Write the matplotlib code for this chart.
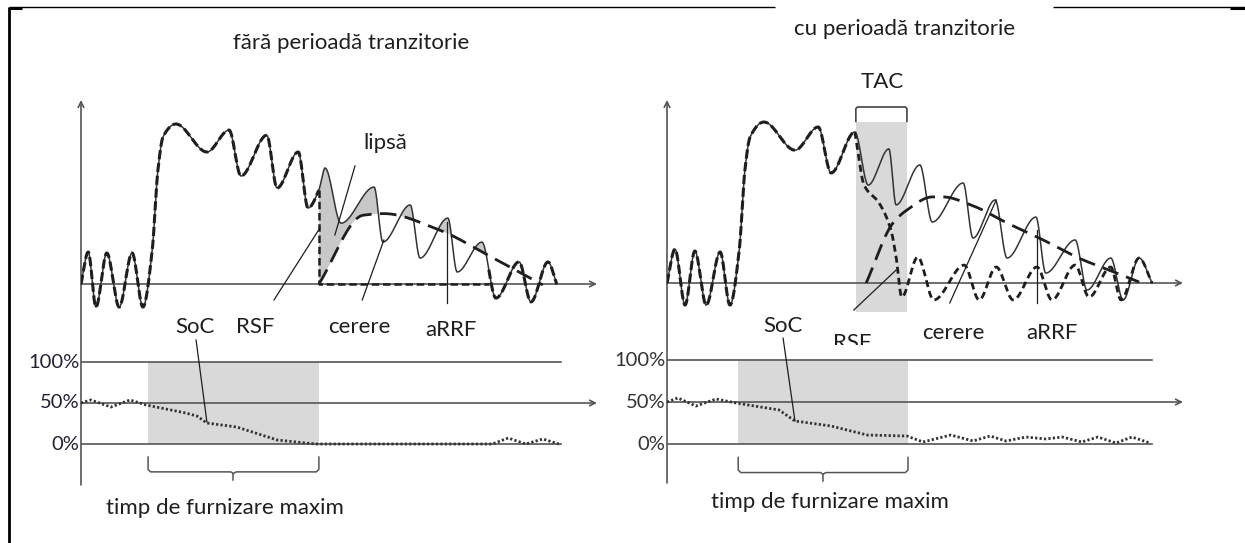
import numpy as np
import matplotlib
matplotlib.use("Agg")
import matplotlib.pyplot as plt
from matplotlib.lines import Line2D

# ---------------- data (time 0..100, power p, state of charge %) ----------------
# left panel: "fără perioadă tranzitorie"
L_dem_t = [0, 1.4, 2.9, 5.0, 7.4, 9.9, 12.0, 13.8, 14.9, 15.9, 18.4, 24.4, 28.7, 31.0, 36.0, 38.0,
           42.1, 44.0, 46.1, 47.3, 50.4, 56.8, 58.5, 63.8, 65.7, 71.1, 72.9, 77.7, 80.4, 84.9, 87.2, 90.5, 92.2]
L_dem_p = [0, 0.20, -0.144, 0.194, -0.144, 0.194, -0.144, 0.21, 0.71, 0.92, 1.0, 0.825, 0.962, 0.675, 0.93, 0.60,
           0.825, 0.475, 0.588, 0.725, 0.38, 0.606, 0.262, 0.494, 0.162, 0.412, 0.075, 0.262, -0.088, 0.138, -0.112, 0.138, 0]
L_rsf_end = 46.1          # RSF stops delivering
L_tail_start = 79.0       # supply follows demand again
L_arrf_t = [46.1, 54.7, 58.7, 69.4, 79.5, 84.9, 89.5]
L_arrf_p = [0, 0.43, 0.44, 0.338, 0.169, 0.075, -0.006]
L_soc_t = [0, 1.9, 5.8, 9.5, 12.6, 20.3, 22.5, 24.4, 30.2, 38.0, 45.5, 79.7, 82.8, 86.2, 89.5, 92.6]
L_soc_s = [50, 53.7, 45.1, 53.7, 47.6, 37.8, 34.0, 25.6, 20.7, 4.9, 0, 0, 7.3, 0, 6.1, 0]
L_box = (13.0, 46.1)

# right panel: "cu perioadă tranzitorie"
R_dem_t = [0, 1.55, 3.5, 5.4, 7.6, 10.3, 12.2, 14.0, 15.1, 16.1, 18.8, 24.8, 29.3, 31.8, 36.4, 39.0,
           43.0, 44.4, 49.0, 51.4, 57.4, 59.3, 63.6, 65.9, 71.5, 73.4, 79.1, 81.4, 86.0, 88.4, 91.5, 94.0]
R_dem_p = [0, 0.212, -0.138, 0.20, -0.138, 0.194, -0.138, 0.206, 0.706, 0.912, 1.006, 0.83, 0.975, 0.688, 0.944, 0.612,
           0.838, 0.488, 0.738, 0.381, 0.625, 0.281, 0.519, 0.156, 0.412, 0.062, 0.269, -0.044, 0.156, -0.106, 0.156, 0]
R_split = 36.4            # start of transition (TAC)
R_rsf_t = [36.4, 38.2, 41.1, 43.4, 44.4, 45.5, 48.6, 51.7, 57.6, 60.5, 63.8, 67.1, 71.7, 74.6, 79.1, 81.8, 86.0, 88.0, 91.5, 94.0]
R_rsf_p = [0.944, 0.612, 0.50, 0.331, 0.162, -0.088, 0.162, -0.106, 0.112, -0.106, 0.10, -0.106, 0.10, -0.106, 0.112, -0.088, 0.10, -0.106, 0.156, 0]
R_arrf_t = [38.6, 43.8, 46.5, 51.4, 53.5, 58.9, 65.9, 72.9, 79.8, 86.6, 91.5]
R_arrf_p = [0, 0.375, 0.456, 0.538, 0.538, 0.488, 0.375, 0.269, 0.156, 0.069, 0.006]
R_soc_t = [0, 2.1, 5.6, 9.5, 13.4, 21.7, 24.8, 31.8, 38.8, 46.5, 49.6, 55.0, 59.3, 62.6, 65.7, 69.6, 73.4,
           76.6, 80.4, 83.5, 87.0, 90.1, 93.6]
R_soc_s = [50, 54.8, 45.2, 53.6, 48.8, 40.5, 27.4, 21.4, 10.7, 9.5, 2.4, 10.7, 3.6, 9.5, 3.6, 8.3, 6.0,
           8.3, 2.4, 8.3, 1.2, 8.3, 1.2]
R_box = (13.8, 46.7)
R_tac = (36.6, 46.5)

soc_levels = [100, 50, 0]
soc_labels = ["100%", "50%", "0%"]

# ---------------- helpers ----------------
def pchip(x, y, xn):
    x = np.asarray(x, float); y = np.asarray(y, float); xn = np.asarray(xn, float)
    h = np.diff(x); d = np.diff(y) / h
    m = np.zeros_like(y)
    m[0], m[-1] = d[0], d[-1]
    for k in range(1, len(x) - 1):
        if d[k - 1] * d[k] > 0:
            w1 = 2 * h[k] + h[k - 1]; w2 = h[k] + 2 * h[k - 1]
            m[k] = (w1 + w2) / (w1 / d[k - 1] + w2 / d[k])
    i = np.clip(np.searchsorted(x, xn) - 1, 0, len(x) - 2)
    s = (xn - x[i]) / h[i]
    h00 = 2 * s**3 - 3 * s**2 + 1; h10 = s**3 - 2 * s**2 + s
    h01 = -2 * s**3 + 3 * s**2; h11 = s**3 - s**2
    return h00 * y[i] + h10 * h[i] * m[i] + h01 * y[i + 1] + h11 * h[i] * m[i + 1]

def smooth(x, y, n=800):
    xn = np.linspace(x[0], x[-1], n)
    return xn, pchip(x, y, xn)

W, H = 1245, 543
plt.rcParams['font.family'] = ['Lato', 'DejaVu Sans']
fig = plt.figure(figsize=(W / 100, H / 100), dpi=100)

def add_ax(x0, x1, y0, y1):
    ax = fig.add_axes([x0 / W, 1 - y1 / H, (x1 - x0) / W, (y1 - y0) / H])
    ax.axis('off')
    return ax

DARK = '#1e1e1e'
AXC = '#555555'
GRAY = '#d9d9d9'
FS = 16
FSP = 14.5

arrow = dict(arrowstyle='->', color=AXC, lw=1.2, shrinkA=0, shrinkB=0)

def leader(ax, p0, p1):
    ax.plot([p0[0], p1[0]], [p0[1], p1[1]], color=DARK, lw=0.9, clip_on=False, zorder=5)

# ================= LEFT PANEL =================
axL = add_ax(81, 597, 95, 345)
axL.set_xlim(0, 100); axL.set_ylim((284 - 345) / 160, (284 - 95) / 160)
axL.annotate('', xy=(100, 0), xytext=(0, 0), arrowprops=arrow, annotation_clip=False)
axL.annotate('', xy=(0, 1.15), xytext=(0, -1.256), arrowprops=arrow, annotation_clip=False)

td, pd = smooth(L_dem_t, L_dem_p, 1500)
ta, pa = smooth(L_arrf_t, L_arrf_p, 600)
# shaded shortfall
mask = (td >= L_rsf_end) & (td <= L_tail_start)
pa_on = np.interp(td, ta, pa)
axL.fill_between(td[mask], pd[mask], pa_on[mask], where=pd[mask] > pa_on[mask],
                 color='#c8c8c8', lw=0, zorder=1, interpolate=True)
# demand (thin)
axL.plot(td, pd, color='#333333', lw=1.1, zorder=3)
# supply before failure (thick dashed over demand)
pre = td <= L_rsf_end
axL.plot(td[pre], pd[pre], color=DARK, lw=2.2, ls=(0, (3, 1.2)), zorder=4)
# RSF drop and zero supply
axL.plot([L_rsf_end, L_rsf_end, L_tail_start], [pd[pre][-1], 0, 0], color=DARK, lw=1.8,
         ls=(0, (3, 1.5)), zorder=4)
post = td >= L_tail_start
axL.plot(td[post], pd[post], color=DARK, lw=2.2, ls=(0, (3, 1.2)), zorder=4)
# aRRF
axL.plot(ta, pa, color=DARK, lw=2.0, ls=(0, (6, 3)), zorder=4)

leader(axL, (53.1, 0.738), (49.2, 0.306))
leader(axL, (37.4, -0.10), (46.3, 0.35))
leader(axL, (54.5, -0.10), (58.7, 0.275))
leader(axL, (70.9, -0.119), (70.9, 0.388))

axL.text(58.9, 0.88, 'lipsă', fontsize=FS, ha='center', va='center', color=DARK)
axL.text(22.1, -0.27, 'SoC', fontsize=FS, ha='center', va='center', color=DARK)
axL.text(33.7, -0.27, 'RSF', fontsize=FS, ha='center', va='center', color=DARK)
axL.text(53.9, -0.27, 'cerere', fontsize=FS, ha='center', va='center', color=DARK)
axL.text(71.7, -0.29, 'aRRF', fontsize=FS, ha='center', va='center', color=DARK)

# lower left
axLb = add_ax(81, 597, 340, 490)
axLb.set_xlim(0, 100); axLb.set_ylim((444 - 490) / 0.82, (444 - 340) / 0.82)
axLb.fill_between(L_box, 0, 100, color=GRAY, lw=0, zorder=0)
for lev, lab in zip(soc_levels, soc_labels):
    if lev == 50:
        axLb.annotate('', xy=(100, lev), xytext=(0, lev), arrowprops=arrow, annotation_clip=False)
    else:
        axLb.plot([0, 93], [lev, lev], color=AXC, lw=1.2)
    axLb.text(-0.3, lev, lab, fontsize=FSP, ha='right', va='center', color='#222233')
axLb.plot(L_soc_t, L_soc_s, color='#333333', lw=2.0, ls=(0, (0.8, 0.8)), zorder=3)
leader(axLb, (22.3, 126.8), (24.4, 26.8))
b0, b1 = L_box; bm = (b0 + b1) / 2
axLb.plot([b0, b0, b0 + 0.5, bm - 0.5, bm, bm + 0.5, b1 - 0.5, b1, b1],
          [-16, -31, -34, -34, -36, -34, -34, -31, -16], color=AXC, lw=1.1, clip_on=False)
axLb.plot([bm, bm], [-36, -44], color=AXC, lw=1.1, clip_on=False)

# ================= RIGHT PANEL =================
axR = add_ax(667, 1183, 95, 345)
axR.set_xlim(0, 100); axR.set_ylim((283 - 345) / 160, (283 - 95) / 160)
axR.fill_between(R_tac, -0.18, 1.006, color=GRAY, lw=0, zorder=0)
axR.annotate('', xy=(100, 0), xytext=(0, 0), arrowprops=arrow, annotation_clip=False)
axR.annotate('', xy=(0, 1.144), xytext=(0, -1.25), arrowprops=arrow, annotation_clip=False)

td, pd = smooth(R_dem_t, R_dem_p, 1500)
tr, pr = smooth(R_rsf_t, R_rsf_p, 1200)
ta, pa = smooth(R_arrf_t, R_arrf_p, 600)
axR.plot(td, pd, color='#333333', lw=1.1, zorder=3)
pre = td <= R_split
axR.plot(td[pre], pd[pre], color=DARK, lw=2.2, ls=(0, (3, 1.2)), zorder=4)
axR.plot(tr, pr, color=DARK, lw=2.0, ls=(0, (2.5, 1.5)), zorder=4)
axR.plot(ta, pa, color=DARK, lw=2.0, ls=(0, (6, 3)), zorder=4)

t0, t1 = R_tac
axR.plot([t0, t0, t0 + 0.3, t1 - 0.3, t1, t1], [1.01, 1.09, 1.1, 1.1, 1.09, 1.01],
         color='#444444', lw=1.2, clip_on=False)

leader(axR, (36.2, -0.169), (44.4, 0.081))
leader(axR, (54.8, -0.125), (63.8, 0.519))
leader(axR, (71.7, -0.125), (71.7, 0.331))

axR.text(22.5, -0.27, 'SoC', fontsize=FS, ha='center', va='center', color=DARK)
axR.text(35.8, -0.375, 'RSF', fontsize=FS, ha='center', va='center', color=DARK, clip_on=True)
axR.text(55.4, -0.31, 'cerere', fontsize=FS, ha='center', va='center', color=DARK)
axR.text(74.6, -0.31, 'aRRF', fontsize=FS, ha='center', va='center', color=DARK)

axRb = add_ax(667, 1183, 340, 490)
axRb.set_xlim(0, 100); axRb.set_ylim((444 - 490) / 0.84, (444 - 340) / 0.84)
axRb.fill_between(R_box, 0, 100, color=GRAY, lw=0, zorder=0)
for lev, lab in zip(soc_levels, soc_labels):
    if lev == 50:
        axRb.annotate('', xy=(100, lev), xytext=(0, lev), arrowprops=arrow, annotation_clip=False)
    else:
        axRb.plot([0, 94], [lev, lev], color=AXC, lw=1.2)
    axRb.text(-0.3, lev, lab, fontsize=FSP, ha='right', va='center', color='#333333')
axRb.plot(R_soc_t, R_soc_s, color='#333333', lw=2.0, ls=(0, (0.8, 0.8)), zorder=3)
leader(axRb, (22.5, 126.0), (24.8, 27.4))
b0, b1 = R_box; bm = (b0 + b1) / 2
axRb.plot([b0, b0, b0 + 0.5, bm - 0.5, bm, bm + 0.5, b1 - 0.5, b1, b1],
          [-16, -31, -34, -34, -36, -34, -34, -31, -16], color=AXC, lw=1.1, clip_on=False)
axRb.plot([bm, bm], [-36, -44], color=AXC, lw=1.1, clip_on=False)

# ---------------- texts in figure space ----------------
def ftext(x, y, s, **kw):
    fig.text(x / W, 1 - y / H, s, ha='center', va='center', fontsize=FS, color=DARK, **kw)

ftext(351, 43, 'fără perioadă tranzitorie')
ftext(905, 29, 'cu perioadă tranzitorie')
ftext(882, 82, 'TAC')
ftext(225, 508, 'timp de furnizare maxim')
ftext(830, 502, 'timp de furnizare maxim')

# ---------------- frame ----------------
def fline(xs, ys, lw):
    fig.add_artist(Line2D([x / W for x in xs], [1 - y / H for y in ys], color='black', lw=lw,
                          transform=fig.transFigure, solid_capstyle='butt'))

fline([9, 9], [7, 543], 2.0)
fline([9, 775], [7, 7], 1.0)
fline([1053, 1245], [7, 7], 1.0)
fline([9, 22], [7.5, 7.5], 2.2)
fline([1230, 1245], [7.5, 7.5], 2.2)

fig.savefig('out.png', dpi=100, facecolor='white')
